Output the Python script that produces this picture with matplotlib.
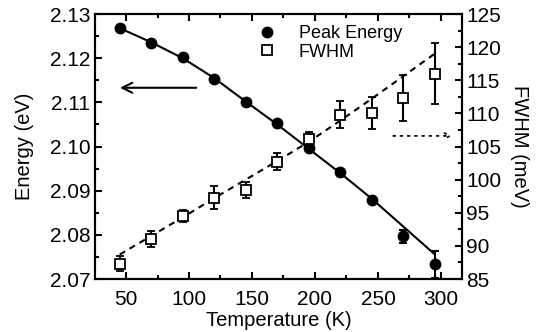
import matplotlib
matplotlib.use("Agg")
import matplotlib.pyplot as plt
from matplotlib.lines import Line2D
from matplotlib.ticker import MultipleLocator, FormatStrFormatter

plt.rcParams['font.family'] = ['Liberation Sans', 'DejaVu Sans']
plt.rcParams['font.size'] = 14.5

# temperatures (K)
temp = [45, 70, 95, 120, 145, 170, 195, 220, 245, 270, 295]

# peak energy (eV)
energy = [2.1268, 2.1234, 2.1202, 2.1152, 2.1100, 2.1053, 2.0996, 2.0943, 2.0880, 2.0797, 2.0733]
energy_err = [0.0005, 0.0005, 0.0005, 0.0005, 0.0005, 0.0005, 0.0005, 0.0005, 0.0005, 0.0015, 0.003]
energy_fit = [2.1268, 2.1236, 2.1200, 2.1155, 2.1102, 2.1050, 2.0995, 2.0940, 2.0882, 2.0819, 2.0756]

# FWHM (meV)
fwhm = [87.3, 91.0, 94.5, 97.3, 98.4, 102.7, 106.2, 109.8, 110.0, 112.3, 116.0]
fwhm_err = [1.1, 1.2, 0.9, 1.7, 1.2, 1.3, 0.95, 2.0, 2.4, 3.5, 4.6]
fwhm_fit = [88.7, 91.5, 94.3, 97.2, 100.0, 102.8, 105.7, 108.9, 112.2, 115.6, 119.0]

fig = plt.figure(figsize=(5.42, 3.32), dpi=100)
ax = fig.add_axes([0.1753, 0.1596, 0.6771, 0.7982])
ax2 = ax.twinx()

# energy: solid fit + filled circles
ax.plot(temp, energy_fit, color='black', lw=1.5, zorder=3)
ax.errorbar(temp, energy, yerr=energy_err, fmt='o', color='black', ms=7.5,
            capsize=3, elinewidth=1.5, capthick=1.5, zorder=4)

# fwhm: dashed fit + open squares
ax2.plot(temp, fwhm_fit, color='black', lw=1.5, dashes=(3, 2.5), zorder=3)
ax2.errorbar(temp, fwhm, yerr=fwhm_err, fmt='s', color='black', mfc='white', mec='black',
             ms=6.5, mew=1.3, capsize=3, elinewidth=1.5, capthick=1.5, zorder=4)

ax.set_xlim(25.4, 316.7)
ax.set_ylim(2.07, 2.13)
ax2.set_ylim(85, 125)

ax.xaxis.set_major_locator(MultipleLocator(50))
ax.xaxis.set_minor_locator(MultipleLocator(25))
ax.yaxis.set_major_locator(MultipleLocator(0.01))
ax.yaxis.set_minor_locator(MultipleLocator(0.005))
ax2.yaxis.set_major_locator(MultipleLocator(5))
ax2.yaxis.set_minor_locator(MultipleLocator(2.5))
ax.yaxis.set_major_formatter(FormatStrFormatter('%.2f'))

ax.tick_params(which='both', direction='in', top=True, right=False, width=1.5, labelsize=15)
ax.tick_params(which='major', length=5)
ax.tick_params(which='minor', length=3)
ax.tick_params(axis='x', which='major', pad=8)
ax2.tick_params(which='both', direction='in', width=1.5, labelsize=15)
ax2.tick_params(which='major', length=5, pad=3)
ax2.tick_params(which='minor', length=3)

for a in (ax, ax2):
    for s in a.spines.values():
        s.set_linewidth(1.5)

ax.set_xlabel('Temperature (K)', labelpad=1)
ax.set_ylabel('Energy (eV)', labelpad=11)
ax2.set_ylabel('FWHM (meV)', rotation=-90, labelpad=20)

# arrows pointing to the axes
ax.annotate('', xy=(43, 2.1133), xytext=(108, 2.1133),
            arrowprops=dict(arrowstyle='->', color='black', lw=1.5, mutation_scale=18))
ax.annotate('', xy=(311, 2.1024), xytext=(260, 2.1024),
            arrowprops=dict(arrowstyle='->', color='black', lw=1.3, ls=(0, (1, 3)), mutation_scale=10))

handles = [Line2D([], [], ls='none', marker='o', color='black', ms=7.5),
           Line2D([], [], ls='none', marker='s', mfc='white', mec='black', ms=6.5, mew=1.3)]
ax.legend(handles, ['Peak Energy', 'FWHM'], loc='upper left', bbox_to_anchor=(0.388, 1.02),
          frameon=False, handletextpad=1.0, labelspacing=0.1, fontsize=13, handlelength=1.5)

fig.savefig('out.png', dpi=100)
